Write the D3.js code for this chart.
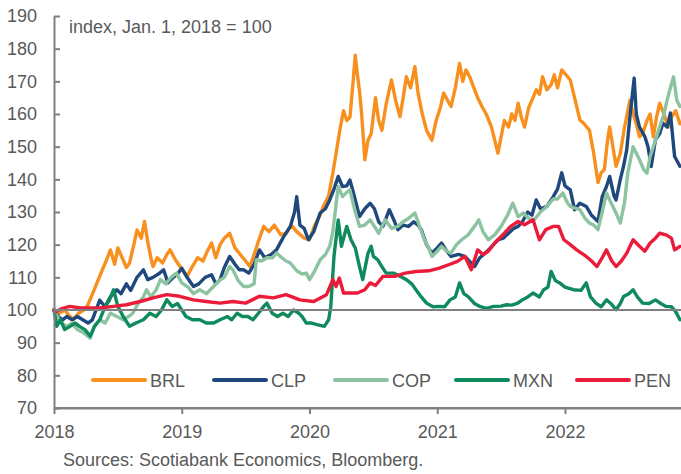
<!DOCTYPE html>
<html>
<head>
<meta charset="utf-8">
<script src="https://cdn.jsdelivr.net/npm/d3@7"></script>
<style>
  html, body { margin: 0; padding: 0; background: #fff; }
  svg { display: block; font-family: "Liberation Sans", Arial, sans-serif; }
</style>
</head>
<body>
<svg id="chart" width="681" height="474"></svg>
<script>
// ---- data (x = months since Jan 1, 2018; y = index, Jan. 1, 2018 = 100) ----
const seriesNames = ["BRL", "CLP", "COP", "MXN", "PEN"];
const seriesColors = ["#F7901E", "#1F497D", "#8CC3A0", "#0F8A5C", "#EB1C3A"];
const yTicks = [70, 80, 90, 100, 110, 120, 130, 140, 150, 160, 170, 180, 190];
const xTickMonths = [0, 12, 24, 36, 48];
const xTickLabels = ["2018", "2019", "2020", "2021", "2022"];

const brl = [[0,100],[0.5,99],[1,100],[1.5,98],[1.8,97],[2.3,99],[2.8,100],[3.1,101],[3.5,104],[4,108],[4.5,112],[4.9,115],[5.3,118.4],[5.7,114],[6,119],[6.4,116],[6.8,113],[7.1,114.4],[7.5,120],[7.8,124.5],[8.2,122],[8.5,127.1],[8.8,121],[9.1,116],[9.3,113.3],[9.7,116],[10.2,114.4],[10.6,117],[10.9,118.4],[11.4,115.4],[11.9,113],[12.5,110.3],[13,113.3],[13.5,116],[14,115],[14.4,118],[14.8,120.5],[15.2,116],[15.6,120],[16,122],[16.5,123.5],[17,119],[17.5,117],[18,115],[18.4,113.3],[18.8,117],[19.2,121],[19.7,125.6],[20.2,124],[20.7,126],[21.3,123],[21.8,123.5],[22.3,126],[22.8,124],[23.5,122],[24,121.5],[24.5,126],[25,129],[25.3,131.7],[25.8,135],[26.2,142],[26.6,150],[26.9,156],[27.2,161],[27.5,158],[27.8,159],[28.1,170],[28.3,178],[28.5,172],[28.7,167],[28.9,160],[29.2,146],[29.5,152],[29.8,154],[30.2,165],[30.5,158],[30.8,155],[31.2,163],[31.7,170.4],[32.1,164],[32.5,159.2],[32.8,165],[33.1,171.4],[33.5,168],[33.9,174.5],[34.2,166.4],[34.6,160],[35,155],[35.5,152],[35.9,158],[36.3,162],[36.6,166.4],[37,164],[37.3,162.3],[37.7,168],[38.1,175.5],[38.4,170],[38.7,173.5],[39.1,171],[39.4,168.4],[39.8,165],[40.2,162.3],[40.6,160],[41.1,156],[41.4,152],[41.7,148],[42,153],[42.3,158],[42.7,156],[43,160],[43.3,158],[43.6,163.3],[43.9,159],[44.2,156],[44.6,162],[45,165],[45.3,167.4],[45.6,166],[45.9,171.4],[46.3,167.4],[46.7,169],[47,172],[47.3,168],[47.7,173.5],[48.1,172],[48.5,170.4],[48.9,165],[49.4,158.2],[49.8,157],[50.3,155],[50.7,148],[51.1,139],[51.4,142],[51.7,143],[52,152],[52.2,156],[52.5,150],[52.8,144],[53.2,148],[53.6,156],[54.1,164.2],[54.4,160],[54.7,157],[55,153],[55.3,154],[55.7,158],[56,160],[56.3,153],[56.6,159],[56.9,163.3],[57.3,160],[57.7,156],[58,159],[58.4,161],[58.8,157]];

const clp = [[0,100],[0.4,98],[0.8,97],[1.2,98],[1.7,97],[2.2,98],[2.7,97],[3.2,96],[3.6,97],[4.3,103],[4.8,101],[5.3,104],[5.9,106.2],[6.3,105],[6.8,108],[7.2,106],[7.8,110],[8.4,112.3],[8.8,109.3],[9.3,110],[9.8,111],[10.3,112.3],[10.7,108.3],[11.2,110],[11.6,111],[12,112.8],[12.5,110],[13.1,107.2],[13.6,108],[14.2,110],[14.8,110.8],[15.2,108],[15.6,109.3],[16,113],[16.5,116.4],[17,114],[17.4,112.3],[17.8,112.3],[18.3,111.3],[18.8,114],[19.3,118.4],[19.8,116],[20.4,117],[20.9,118.4],[21.5,122],[22.2,125.6],[22.6,130],[22.8,134.7],[23.1,126],[23.5,125],[23.9,121.5],[24.4,124],[25,129.7],[25.5,131],[25.9,133.7],[26.3,137],[26.7,140.9],[27.1,137.8],[27.5,138],[27.8,139.8],[28.2,135],[28.7,128.6],[29.2,131],[29.7,132.7],[30.1,131],[30.5,127],[30.9,125.6],[31.5,130.7],[32,127],[32.3,124.6],[32.8,126],[33.3,125.6],[33.8,127],[34.2,126],[34.5,124.6],[35,120],[35.5,117.4],[36,119],[36.4,120.5],[36.9,118],[37.3,116.4],[38,117],[38.6,116.4],[39,115],[39.5,113.3],[40,116],[40.5,117.4],[41,119],[41.7,121.5],[42.2,122],[42.7,123.5],[43.2,125],[43.6,125.6],[44,127],[44.5,130],[44.9,129],[45.3,133.7],[45.7,131],[46.3,131.7],[46.9,134.7],[47.3,137],[47.7,142],[48,138],[48.5,136.8],[48.9,130.7],[49.4,132.7],[50,131.7],[50.5,129],[51.1,127.1],[51.5,134.7],[51.9,137.8],[52.2,140.9],[52.6,135],[52.8,133.7],[53.2,140],[53.5,144],[53.8,149],[54.1,159],[54.5,171],[54.7,160],[55,156],[55.5,153.1],[55.8,150],[56.1,143.9],[56.5,152.1],[56.9,154],[57.2,157.2],[57.6,156],[57.9,160.3],[58.3,147],[58.8,144]];

const cop = [[0,100],[0.3,98],[0.7,96],[1.2,95],[1.7,96],[2.2,94],[2.8,93],[3.4,91.4],[3.8,95],[4.3,97],[4.8,96],[5.3,99],[5.9,98],[6.5,97],[7,98],[7.4,99],[7.9,102],[8.4,104],[8.7,106.2],[9.1,104],[9.6,106.2],[10,109.3],[10.5,108],[11,110],[11.5,111.3],[12,108.3],[12.6,107],[13.1,105],[13.7,106.2],[14.3,105],[15,107.2],[15.5,109],[16,110],[16.5,113.3],[16.8,112.3],[17.3,109],[17.8,107.2],[18.3,107.2],[18.8,108],[19,115.4],[19.5,115],[20,116],[20.5,116],[20.9,117.4],[21.4,116],[21.8,115],[22.2,114.4],[22.8,112],[23.3,111],[23.7,111.3],[24,109.3],[24.5,112],[25,115.4],[25.5,117],[25.9,119.5],[26.2,124],[26.4,129.7],[26.7,137.8],[27.1,134.7],[27.5,136],[27.8,136.8],[28.3,130],[28.7,125.6],[29.2,126],[29.7,127.6],[30.1,125.6],[30.5,123.5],[31.1,127.6],[31.7,125],[32.3,125.6],[32.8,127],[33.3,128],[33.9,129.7],[34.3,126],[34.8,121.5],[35.2,119],[35.5,116.4],[36,118],[36.4,119.5],[36.9,118],[37.3,117.4],[37.8,120],[38.3,121.5],[38.9,123],[39.5,125.6],[39.9,127.6],[40.3,124],[40.8,121.5],[41.4,123],[42,125.6],[42.6,129],[43.1,132.7],[43.6,128.6],[44.1,129.7],[44.6,128],[45.1,127.6],[45.7,130],[46.3,131.7],[46.9,134],[47.3,134],[47.8,135.8],[48.2,133],[48.5,131.7],[49.1,131],[49.4,130.7],[49.9,128],[50.3,126.6],[50.7,126],[51.1,124.6],[51.5,130],[51.9,135.8],[52.3,133],[52.8,129.7],[53.2,126.6],[53.6,133],[53.9,141.9],[54.4,150],[54.7,148],[55,146],[55.4,143],[55.7,141.9],[56,147],[56.3,150],[56.6,153],[56.9,156.1],[57.3,160],[57.6,164.3],[57.9,168],[58.2,171.4],[58.5,164.3],[58.8,162.3]];

const mxn = [[0,100],[0.25,95],[0.6,97],[1,94],[1.5,95],[2,96],[2.4,95],[2.9,94],[3.4,92],[3.8,95],[4.3,97],[4.8,101],[5.2,103],[5.6,106.2],[6,101.1],[6.5,98],[7.1,95],[7.7,96],[8.4,97],[9,99],[9.6,98],[10.1,100],[10.6,103.1],[11.1,101.1],[11.6,102],[12,100],[12.4,98],[13,97],[13.7,97],[14.3,96],[15,96],[15.6,97],[16.3,98],[16.7,97],[17.2,99],[17.7,98],[18.2,98],[18.7,97],[19.2,99],[19.7,101.1],[20,102.1],[20.5,99],[21,98],[21.5,99],[22,98],[22.5,100],[23,99],[23.3,98],[23.7,96],[24.2,96],[24.7,95.5],[25.4,95],[25.8,97],[26,101],[26.3,116.4],[26.7,127.6],[27,119.5],[27.5,125.6],[27.9,121.5],[28.3,119],[28.7,113.3],[29,109.3],[29.5,117.4],[29.8,119.5],[30,116.4],[30.4,115.4],[30.8,113.3],[31.2,111.3],[31.9,111.3],[32.5,110.3],[33.1,109.3],[33.6,108],[34,106.2],[34.5,104],[35,102.1],[35.6,101],[36.2,101.1],[36.7,101],[37.2,103.1],[37.7,104],[38.1,108.3],[38.5,105],[38.9,104.1],[39.5,102],[40,101.1],[40.6,100.5],[41.3,101.1],[42,101.2],[42.5,101.6],[43,101.5],[43.5,102],[44,103.1],[44.5,104],[45,105.2],[45.6,104],[46,106.2],[46.4,107],[46.7,111.8],[47.1,109],[47.5,108.3],[48,107],[48.8,106.2],[49.5,106],[50,108.3],[50.4,104],[50.9,102.1],[51.4,101],[51.9,103.1],[52.3,102],[52.8,100.1],[53.2,102],[53.5,104.1],[54,105],[54.4,106.2],[54.8,104],[55.3,102.1],[55.9,102],[56.5,103.1],[57,102],[57.5,101.1],[58,101],[58.4,99.5],[58.8,97]];

const pen = [[0,100],[0.25,99.6],[0.8,100.5],[1.5,101.1],[2.5,100.6],[3.4,100.6],[4.3,100.6],[5.6,101.1],[6.8,101.6],[8.1,102.6],[9.3,103.7],[10.6,104.7],[11.8,104.2],[13.1,103.1],[14.3,102.6],[15.6,102.1],[16.8,102.6],[18,102.1],[19.3,104.2],[20.6,103.7],[21.8,104.7],[23.1,103.1],[24.4,102.6],[25.6,104.7],[26.2,109.3],[26.5,107.2],[26.8,109.8],[27.2,105.2],[28.5,105.2],[29.2,106.2],[29.7,108.3],[30.2,107.5],[30.9,110.3],[32,110.3],[33,111.3],[34,111.8],[35.2,112],[36.2,112.8],[37.2,114],[37.9,114.9],[38.6,116.4],[39.2,112.3],[39.8,118.4],[40.3,117],[40.8,118],[41.4,120.5],[42.3,123.5],[42.9,125.6],[43.6,127.1],[44.2,126.1],[45,127.6],[45.6,121.5],[46.2,124.6],[46.9,125.6],[47.4,125.6],[47.9,121.5],[48.5,120],[49.1,118.4],[50,116.4],[50.5,115],[51,113.3],[51.5,116],[51.9,118.4],[52.4,115],[52.8,113.3],[53.3,115],[53.8,117.4],[54.4,121.5],[55,119.5],[55.5,118],[56,120.5],[56.5,122],[56.9,123.5],[57.5,123],[58,122],[58.3,118.4],[58.8,119.5]];

const seriesData = [brl, clp, cop, mxn, pen];

// ---- drawing ----
const svg = d3.select("#chart");
const axisColor = "#808080";
const textColor = "#595959";

const x = d3.scaleLinear().domain([0, 58.9]).range([54, 681]);
const y = d3.scaleLinear().domain([70, 190]).range([408, 16]);

// series lines
const line = d3.line().x(d => x(d[0])).y(d => y(d[1])).curve(d3.curveLinear);
seriesData.forEach((s, i) => {
  svg.append("path")
    .datum(s)
    .attr("fill", "none")
    .attr("stroke", seriesColors[i])
    .attr("stroke-width", 3.4)
    .attr("stroke-linejoin", "round")
    .attr("stroke-linecap", "round")
    .attr("d", line);
});

// reference line at 100
svg.append("line")
  .attr("x1", x(0)).attr("x2", 681)
  .attr("y1", y(100)).attr("y2", y(100))
  .attr("stroke", axisColor).attr("stroke-width", 2);

// y axis
const yAxis = svg.append("g")
  .attr("transform", `translate(${x(0)},0)`)
  .call(d3.axisLeft(y).tickValues(yTicks).tickSizeInner(-6).tickSizeOuter(0).tickPadding(17));
yAxis.select(".domain").attr("stroke", axisColor).attr("stroke-width", 2);
yAxis.selectAll(".tick line").attr("stroke", axisColor).attr("stroke-width", 2);
yAxis.selectAll(".tick text").attr("fill", textColor).style("font-size", "18px")
  .style("font-family", '"Liberation Sans", Arial, sans-serif');

// x axis
const xAxis = svg.append("g")
  .attr("transform", `translate(0,${y(70)})`)
  .call(d3.axisBottom(x).tickValues(xTickMonths).tickFormat((d, i) => xTickLabels[i])
    .tickSizeInner(6).tickSizeOuter(0).tickPadding(11));
xAxis.select(".domain").attr("stroke", axisColor).attr("stroke-width", 2);
xAxis.selectAll(".tick line").attr("stroke", axisColor).attr("stroke-width", 2);
xAxis.selectAll(".tick text").attr("fill", textColor).style("font-size", "18px")
  .style("font-family", '"Liberation Sans", Arial, sans-serif');
// extend x axis domain to the right edge
xAxis.append("line").attr("x1", x(0)).attr("x2", 681).attr("y1", 0).attr("y2", 0)
  .attr("stroke", axisColor).attr("stroke-width", 2);

// title
svg.append("text")
  .attr("x", 69).attr("y", 33)
  .attr("fill", textColor).style("font-size", "18px")
  .attr("xml:space", "preserve")
  .text("index, Jan. 1, 2018 = 100");

// legend
const legend = svg.append("g");
seriesNames.forEach((name, i) => {
  const lx = 93 + i * 121;
  legend.append("line")
    .attr("x1", lx).attr("x2", lx + 52)
    .attr("y1", 380).attr("y2", 380)
    .attr("stroke", seriesColors[i]).attr("stroke-width", 4)
    .attr("stroke-linecap", "round");
  legend.append("text")
    .attr("x", lx + 57).attr("y", 386.5)
    .attr("fill", textColor).style("font-size", "18px")
    .text(name);
});

// source
svg.append("text")
  .attr("x", 63).attr("y", 466)
  .attr("fill", textColor).style("font-size", "18px")
  .text("Sources: Scotiabank Economics, Bloomberg.");
</script>
</body>
</html>
